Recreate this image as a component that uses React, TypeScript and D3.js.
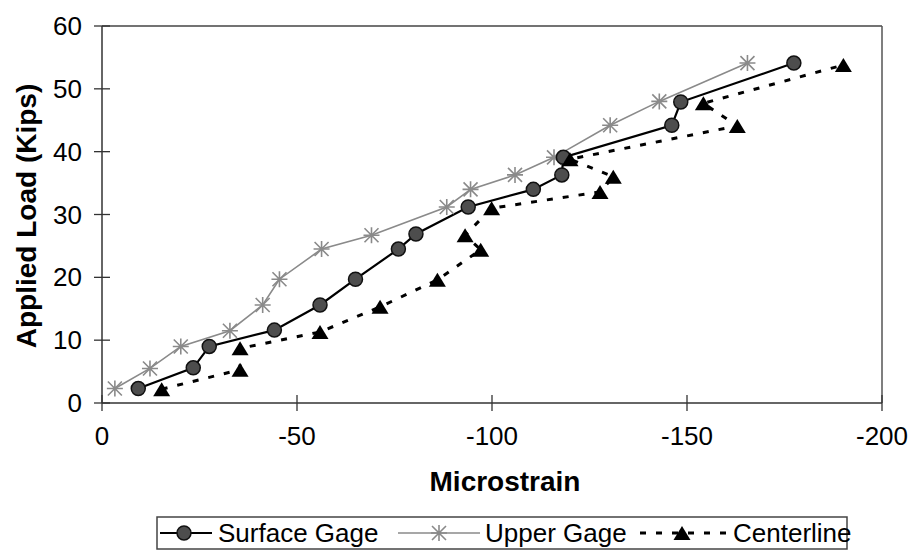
import React from "react";
import * as d3 from "d3";

const surfaceStrain = [-9.3, -23.4, -27.5, -44.2, -55.9, -65.0, -76.0, -80.5, -93.9, -110.6, -117.9, -118.3, -146.1, -148.4, -177.4];
const surfaceLoad = [2.3, 5.6, 9.0, 11.6, 15.6, 19.7, 24.5, 26.9, 31.2, 34.0, 36.3, 39.1, 44.2, 47.9, 54.1];
const upperStrain = [-3.3, -12.3, -20.2, -32.8, -41.2, -45.5, -56.3, -69.1, -88.4, -94.5, -105.9, -115.9, -130.3, -142.9, -165.5];
const upperLoad = [2.3, 5.5, 9.0, 11.5, 15.6, 19.7, 24.5, 26.7, 31.2, 34.0, 36.3, 39.1, 44.2, 48.0, 54.1];
const centerStrain = [-15.3, -35.4, -35.4, -55.9, -71.3, -86.0, -97.1, -93.1, -99.9, -127.7, -131.1, -120.0, -162.9, -154.2, -190.1];
const centerLoad = [2.2, 5.3, 8.7, 11.3, 15.3, 19.6, 24.4, 26.7, 31.0, 33.6, 36.0, 38.8, 44.1, 47.7, 53.8];

const xTicks = [0, -50, -100, -150, -200];
const yTicks = [0, 10, 20, 30, 40, 50, 60];
const seriesNames = ["Surface Gage", "Upper Gage", "Centerline"];

const FONT = "'Liberation Sans', Arial, sans-serif";

const x = d3.scaleLinear().domain([0, -200]).range([102, 882]);
const y = d3.scaleLinear().domain([0, 60]).range([403, 26]);

type P = [number, number];
const zip = (a: number[], b: number[]): P[] => a.map((v, i) => [v, b[i]]);

const surface = zip(surfaceStrain, surfaceLoad);
const upper = zip(upperStrain, upperLoad);
const center = zip(centerStrain, centerLoad);

const line = d3.line<P>().x((d) => x(d[0])).y((d) => y(d[1]));

const Circle = ({ cx, cy }: { cx: number; cy: number }) => (
  <circle cx={cx} cy={cy} r={7} fill="#4d4d4d" stroke="#111" strokeWidth={1.5} />
);
const Star = ({ cx, cy }: { cx: number; cy: number }) => {
  const r = 7;
  return (
    <path
      d={`M${cx - r},${cy - r}L${cx + r},${cy + r}M${cx - r},${cy + r}L${cx + r},${cy - r}M${cx},${cy - r - 1}L${cx},${cy + r + 1}M${cx - r - 1},${cy}L${cx + r + 1},${cy}`}
      stroke="#8a8a8a"
      strokeWidth={1.6}
      fill="none"
    />
  );
};
const Tri = ({ cx, cy }: { cx: number; cy: number }) => {
  const w = 8.5, h = 7;
  return <path d={`M${cx},${cy - h}L${cx + w},${cy + h}L${cx - w},${cy + h}Z`} fill="#000" />;
};

export default function App() {
  const [x0, x1] = x.range();
  const [yb, yt] = y.range();
  return (
    <svg width={914} height={558} style={{ position: "absolute", left: 0, top: 0, background: "#fff" }} fontFamily={FONT}>
      <rect width={914} height={558} fill="#fff" />
      {/* plot frame */}
      <line x1={x0} x2={x1} y1={yt} y2={yt} stroke="#444" strokeWidth={1.5} />
      <line x1={x1} x2={x1} y1={yt} y2={yb} stroke="#555" strokeWidth={1.5} />
      <line x1={x0} x2={x1} y1={yb} y2={yb} stroke="#333" strokeWidth={1.5} />
      <line x1={x0} x2={x0} y1={yt} y2={yb} stroke="#333" strokeWidth={1.5} />
      {yTicks.map((t) => (
        <g key={"y" + t}>
          <line x1={x0 - 8} x2={x0 + 8} y1={y(t)} y2={y(t)} stroke="#333" strokeWidth={1.3} />
          <text x={82} y={y(t)} textAnchor="end" dominantBaseline="central" fontSize={26} fill="#000">
            {t}
          </text>
        </g>
      ))}
      {xTicks.map((t) => (
        <g key={"x" + t}>
          <line x1={x(t)} x2={x(t)} y1={yb - 8} y2={yb + 8} stroke="#333" strokeWidth={1.3} />
          <text x={x(t)} y={436} textAnchor="middle" dominantBaseline="central" fontSize={26} fill="#000">
            {t}
          </text>
        </g>
      ))}
      <text x={505} y={481} textAnchor="middle" dominantBaseline="central" fontSize={28} fontWeight="bold">
        Microstrain
      </text>
      <text
        transform={`translate(26,216) rotate(-90)`}
        textAnchor="middle"
        dominantBaseline="central"
        fontSize={28}
        fontWeight="bold"
      >
        Applied Load (Kips)
      </text>

      {/* series */}
      <path d={line(upper) || ""} fill="none" stroke="#8a8a8a" strokeWidth={1.6} />
      <path d={line(surface) || ""} fill="none" stroke="#000" strokeWidth={2.2} />
      <path d={line(center) || ""} fill="none" stroke="#000" strokeWidth={3} strokeDasharray="6,10" />
      {upper.map((d, i) => (
        <Star key={"u" + i} cx={x(d[0])} cy={y(d[1])} />
      ))}
      {surface.map((d, i) => (
        <Circle key={"s" + i} cx={x(d[0])} cy={y(d[1])} />
      ))}
      {center.map((d, i) => (
        <Tri key={"c" + i} cx={x(d[0])} cy={y(d[1])} />
      ))}

      {/* legend */}
      <rect x={157} y={517} width={690} height={32} fill="#fff" stroke="#444" strokeWidth={1.5} />
      <line x1={160} x2={212} y1={533} y2={533} stroke="#000" strokeWidth={2} />
      <Circle cx={184} cy={533} />
      <text x={218} y={533} dominantBaseline="central" fontSize={26}>{seriesNames[0]}</text>
      <line x1={398} x2={480} y1={533} y2={533} stroke="#8a8a8a" strokeWidth={1.6} />
      <Star cx={439} cy={533} />
      <text x={485} y={533} dominantBaseline="central" fontSize={26}>{seriesNames[1]}</text>
      <line x1={640} x2={728} y1={533} y2={533} stroke="#000" strokeWidth={3} strokeDasharray="6,10" />
      <Tri cx={682} cy={533} />
      <text x={733} y={533} dominantBaseline="central" fontSize={26}>{seriesNames[2]}</text>
    </svg>
  );
}
